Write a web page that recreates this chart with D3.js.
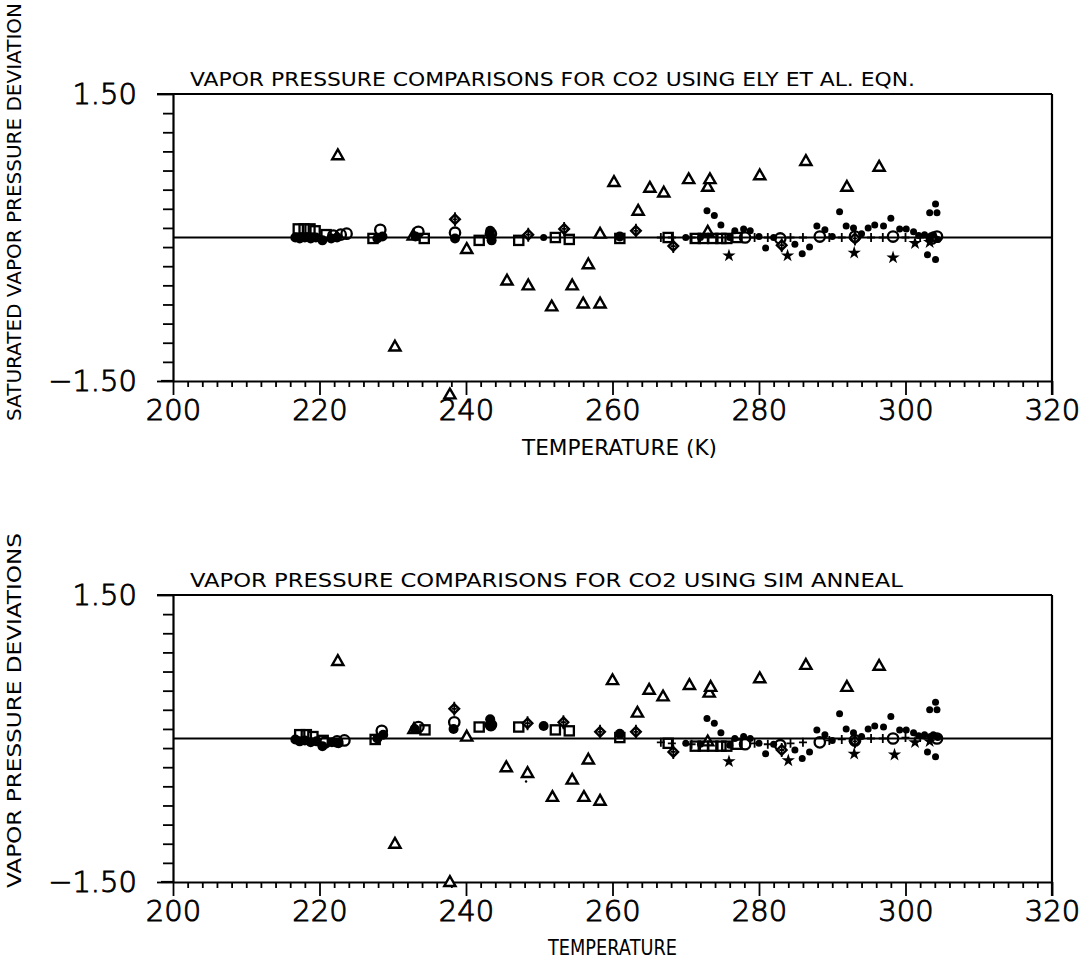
<!DOCTYPE html>
<html>
<head>
<meta charset="utf-8">
<script src="https://cdn.jsdelivr.net/npm/d3@7"></script>
<style>
body { margin: 0; background: #fff; }
text { font-family: "DejaVu Sans", sans-serif; fill: #000; }
.num { font-weight: 200; stroke: #000; stroke-width: 0.9px; }
</style>
</head>
<body>
<svg id="chart" width="1090" height="962"></svg>
<script>
// tick values and labels
var xTicks = d3.range(200, 321, 2);
var xMajor = [200, 220, 240, 260, 280, 300, 320];
var yTicks = d3.range(0, 16).map(function(i) { return -1.5 + i * 0.2; });
var yLabelled = [-1.5, 1.5];

// ---- top panel: Ely et al. equation ----
var triT = [[222.5,0.86],[230.3,-1.14],[232.8,0.02],[237.8,-1.64],[240.1,-0.12],[245.6,-0.45],[248.5,-0.50],
  [251.7,-0.72],[254.5,-0.50],[256.0,-0.69],[256.7,-0.28],[258.3,-0.69],[258.3,0.04],[260.2,0.58],[263.5,0.28],
  [265.1,0.52],[267.0,0.47],[270.4,0.61],[273.0,0.53],[273.3,0.61],[273.0,0.06],[280.1,0.65],[286.4,0.80],
  [292.0,0.53],[296.4,0.74]];
var circT = [[221.9,0.02],[222.9,0.03],[223.7,0.04],[228.3,0.08],[233.5,0.06],[238.5,0.05],[243.4,0.04],
  [278.1,0.0],[282.9,-0.01],[288.3,0.01],[293.1,0.01],[298.3,0.01],[303.6,-0.01],[304.3,0.01]];
var sqT = [[217.1,0.09],[217.9,0.09],[218.7,0.09],[219.4,0.07],[220.9,0.03],[227.3,-0.01],[234.3,-0.01],
  [241.8,-0.03],[247.2,-0.03],[252.2,0.0],[254.1,-0.02],[261.0,-0.01],[267.6,0.0],[271.3,-0.01],[272.4,-0.01],
  [273.7,-0.01],[274.8,-0.01],[275.6,-0.01],[277.0,0.0]];
var diaT = [[238.5,0.19],[248.5,0.03],[253.4,0.09],[263.2,0.07],[268.3,-0.09],[283.1,-0.08],[293.1,-0.01]];
var blobT = [[216.7,0.0],[217.3,-0.01],[218.0,0.0],[218.8,-0.01],[219.5,0.0],[220.4,-0.03],[221.6,-0.01],
  [222.4,0.0],[227.9,-0.01],[228.6,0.01],[233.1,0.01],[238.5,-0.01],[243.3,0.07],[243.4,0.01],[243.5,-0.03],
  [261.0,0.01]];
var dotT = [[250.6,0.0],[270.0,0.0],[272.0,0.0],[272.9,0.28],[273.9,0.23],[274.8,0.13],[276.0,0.0],[276.7,0.07],
  [277.9,0.09],[278.8,0.07],[280.0,0.01],[280.9,-0.11],[282.0,0.0],[284.9,-0.07],[285.9,-0.17],[286.9,-0.10],
  [287.9,0.12],[289.0,0.08],[290.0,0.01],[291.0,0.27],[291.9,0.12],[292.9,0.10],[294.0,0.04],[294.9,0.10],
  [295.8,0.13],[297.0,0.12],[298.0,0.20],[299.2,0.09],[300.1,0.09],[301.1,0.06],[301.8,0.02],[302.6,0.03],
  [303.0,-0.18],[303.3,0.26],[303.4,0.0],[303.8,0.03],[304.1,0.35],[304.1,-0.23],[304.3,0.26],[304.4,-0.02]];
var starT = [[275.9,-0.19],[283.9,-0.19],[293.0,-0.16],[298.3,-0.21],[301.3,-0.06],[303.3,-0.05]];
var plusT = [[266.6,0.0],[268.1,0.0],[270.8,0.0],[279.4,0.0],[281.2,0.0],[284.3,0.0],[286.0,0.0],[289.6,0.0],
  [291.3,0.0],[295.3,0.0],[296.9,0.0],[300.0,0.0],[302.0,0.0]];

// ---- bottom panel: simulated annealing ----
var triB = [[222.5,0.81],[230.3,-1.10],[232.9,0.10],[237.8,-1.50],[240.1,0.02],[245.5,-0.30],[248.4,-0.36],
  [251.8,-0.61],[254.5,-0.43],[256.1,-0.61],[256.7,-0.22],[258.3,-0.65],[260.0,0.61],[263.4,0.27],[265.0,0.51],
  [266.9,0.44],[270.5,0.56],[273.2,0.48],[273.4,0.54],[273.0,-0.03],[280.1,0.63],[286.4,0.77],[292.0,0.54],
  [296.4,0.76]];
var circB = [[220.8,-0.04],[222.4,-0.03],[223.4,-0.02],[228.5,0.08],[233.5,0.12],[238.4,0.17],[243.4,0.14],
  [278.1,-0.06],[282.9,-0.07],[288.3,-0.04],[293.1,-0.02],[298.3,0.0],[304.3,0.0]];
var sqB = [[217.3,0.04],[218.2,0.04],[219.1,0.02],[220.5,-0.02],[227.6,-0.01],[234.4,0.09],[241.8,0.12],
  [247.2,0.12],[252.2,0.09],[254.1,0.08],[261.0,0.01],[267.6,-0.05],[271.3,-0.08],[272.4,-0.08],[273.7,-0.08],
  [274.8,-0.08],[275.6,-0.08],[277.0,-0.06]];
var diaB = [[238.4,0.31],[248.4,0.16],[253.3,0.17],[258.3,0.07],[263.2,0.07],[268.3,-0.14],[283.1,-0.12],
  [293.1,-0.03]];
var blobB = [[216.7,-0.01],[217.3,-0.03],[218.0,-0.02],[218.8,-0.04],[219.6,-0.03],[220.4,-0.08],[221.7,-0.04],
  [222.6,-0.05],[227.9,0.0],[228.7,0.04],[233.0,0.10],[238.3,0.10],[243.3,0.20],[243.4,0.14],[250.6,0.13],
  [261.0,0.05]];
var dotB = [[270.0,-0.05],[272.0,-0.06],[272.9,0.21],[273.9,0.16],[274.8,0.06],[276.0,-0.07],[276.7,0.0],
  [277.9,0.02],[278.8,0.0],[280.0,-0.05],[280.9,-0.16],[282.0,-0.06],[284.9,-0.12],[285.9,-0.21],[286.9,-0.14],
  [287.9,0.09],[289.0,0.04],[290.0,-0.02],[291.0,0.26],[291.9,0.10],[292.9,0.06],[294.0,0.02],[294.9,0.10],
  [295.8,0.13],[297.0,0.12],[298.0,0.23],[299.2,0.09],[300.1,0.09],[301.1,0.06],[301.8,0.03],[302.6,0.04],
  [303.0,-0.14],[303.3,0.30],[303.4,0.02],[303.8,0.04],[304.1,0.38],[304.1,-0.19],[304.3,0.30],[304.4,0.01]];
var starB = [[275.9,-0.24],[284.0,-0.23],[293.0,-0.16],[298.5,-0.17],[301.3,-0.04],[303.3,-0.03]];
var plusB = [[266.6,-0.04],[268.1,-0.05],[270.8,-0.06],[279.4,-0.05],[281.2,-0.06],[284.3,-0.05],[286.0,-0.04],
  [289.6,-0.02],[291.3,-0.01],[295.3,0.0],[296.9,0.0],[300.0,0.01],[302.0,0.01]];
var speckB = [[248.2,-0.45]];

var svg = d3.select('#chart');

var left = 173, right = 1052, plotH = 287;

var x = d3.scaleLinear().domain([200, 320]).range([left, right]);

// symbol shapes, all drawn in black
var shapes = {
    tri: function(g) {
        g.append('path').attr('d', 'M0,-5.8L5.6,4L-5.6,4Z')
            .attr('fill', '#fff').attr('stroke', '#000').attr('stroke-width', 2.4);
    },
    circ: function(g) {
        g.append('circle').attr('r', 5.2).attr('fill', 'none')
            .attr('stroke', '#000').attr('stroke-width', 2.3);
    },
    sq: function(g) {
        g.append('rect').attr('x', -4.6).attr('y', -4.6).attr('width', 9.2).attr('height', 9.2)
            .attr('fill', 'none').attr('stroke', '#000').attr('stroke-width', 2.3);
    },
    dia: function(g) {
        g.append('path').attr('d', 'M0,-4.8L4.8,0L0,4.8L-4.8,0Z')
            .attr('fill', '#fff').attr('stroke', '#000').attr('stroke-width', 2.4);
        g.append('path').attr('d', 'M0,-7V7M-2.5,0H2.5')
            .attr('stroke', '#000').attr('stroke-width', 1.8);
    },
    blob: function(g) {
        g.append('circle').attr('r', 5).attr('fill', '#000');
    },
    dot: function(g) {
        g.append('circle').attr('r', 3.5).attr('fill', '#000');
    },
    star: function(g) {
        g.append('path').attr('d', d3.symbol().type(d3.symbolStar).size(55)()).attr('fill', '#000');
    },
    plus: function(g) {
        g.append('path').attr('d', 'M-4,0H4M0,-4.5V4.5')
            .attr('stroke', '#000').attr('stroke-width', 1.8);
    },
    speck: function(g) {
        g.append('circle').attr('r', 1.2).attr('fill', '#000');
    }
};

function drawPanel(top, title, titleLen, ylabel, ylabelTop, xlabel, series) {
    var bottom = top + plotH;
    var y = d3.scaleLinear().domain([-1.5, 1.5]).range([bottom, top]);
    var g = svg.append('g');

    // y axis, only the ends labelled
    var yAxis = d3.axisLeft(y).tickValues(yTicks).tickSize(10).tickSizeOuter(0)
        .tickFormat(function(d) {
            return yLabelled.some(function(v) { return Math.abs(v - d) < 1e-6; }) ? d3.format('.2f')(d).replace('-', '\u2212') : '';
        });
    var ya = g.append('g').attr('transform', 'translate(' + left + ',0)').call(yAxis);
    ya.select('.domain').attr('stroke-width', 2.2);
    ya.selectAll('.tick line').attr('stroke-width', 1.8)
        .attr('x2', function(d) { return Math.abs(Math.abs(d) - 1.5) < 1e-6 ? -16 : -10; });
    ya.selectAll('.tick text').attr('class', 'num').attr('x', -36).attr('dy', '0.34em')
        .style('font-size', '29px').style('font-family', '"DejaVu Sans", sans-serif');

    // x axis, minor ticks every 2 K
    var xAxis = d3.axisBottom(x).tickValues(xTicks).tickSize(6).tickSizeOuter(0)
        .tickFormat(function(d) { return xMajor.indexOf(d) >= 0 ? d : ''; });
    var xa = g.append('g').attr('transform', 'translate(0,' + bottom + ')').call(xAxis);
    xa.select('.domain').attr('stroke-width', 2.2);
    xa.selectAll('.tick line').attr('stroke-width', 1.8)
        .attr('y2', function(d) { return xMajor.indexOf(d) >= 0 ? 14 : 6; });
    xa.selectAll('.tick text').attr('class', 'num').attr('y', 18).attr('dy', '0.71em')
        .style('font-size', '29px').style('font-family', '"DejaVu Sans", sans-serif');

    // frame
    g.append('line').attr('x1', left - 16).attr('x2', right).attr('y1', top).attr('y2', top)
        .attr('stroke', '#000').attr('stroke-width', 2.2);
    g.append('line').attr('x1', left - 12).attr('x2', left).attr('y1', bottom).attr('y2', bottom)
        .attr('stroke', '#000').attr('stroke-width', 2.2);
    g.append('line').attr('x1', right).attr('x2', right).attr('y1', top).attr('y2', bottom + 14)
        .attr('stroke', '#000').attr('stroke-width', 2.2);

    // zero line
    g.append('line').attr('x1', left).attr('x2', right).attr('y1', y(0)).attr('y2', y(0))
        .attr('stroke', '#000').attr('stroke-width', 2.2);

    series.forEach(function(s) {
        g.append('g').selectAll('g').data(s.data).enter().append('g')
            .attr('transform', function(d) { return 'translate(' + x(d[0]) + ',' + y(d[1]) + ')'; })
            .each(function() { shapes[s.type](d3.select(this)); });
    });

    g.append('text').attr('x', 190).attr('y', top - 8)
        .attr('textLength', titleLen).attr('lengthAdjust', 'spacingAndGlyphs')
        .style('font-size', '19px').text(title);

    g.append('text').attr('transform', 'translate(21,' + ylabelTop[0] + ') rotate(-90)')
        .attr('textLength', ylabelTop[0] - ylabelTop[1]).attr('lengthAdjust', 'spacingAndGlyphs')
        .style('font-size', '19px').text(ylabel);

    g.append('text').attr('x', xlabel[1]).attr('y', bottom + xlabel[2])
        .attr('textLength', xlabel[3] - xlabel[1]).attr('lengthAdjust', 'spacingAndGlyphs')
        .style('font-size', '21px').text(xlabel[0]);
}

drawPanel(94, 'VAPOR  PRESSURE  COMPARISONS  FOR  CO2  USING  ELY  ET  AL.  EQN.', 725,
    'SATURATED  VAPOR  PRESSURE  DEVIATION', [421, 3],
    ['TEMPERATURE  (K)', 522, 74, 717],
    [{type: 'tri', data: triT}, {type: 'sq', data: sqT}, {type: 'circ', data: circT},
     {type: 'dia', data: diaT}, {type: 'blob', data: blobT}, {type: 'dot', data: dotT},
     {type: 'star', data: starT}, {type: 'plus', data: plusT}]);

drawPanel(595, 'VAPOR  PRESSURE  COMPARISONS  FOR  CO2  USING  SIM  ANNEAL', 713,
    'VAPOR  PRESSURE  DEVIATIONS', [888, 533],
    ['TEMPERATURE', 548, 73, 677],
    [{type: 'tri', data: triB}, {type: 'sq', data: sqB}, {type: 'circ', data: circB},
     {type: 'dia', data: diaB}, {type: 'blob', data: blobB}, {type: 'dot', data: dotB},
     {type: 'star', data: starB}, {type: 'plus', data: plusB}, {type: 'speck', data: speckB}]);
</script>
</body>
</html>
